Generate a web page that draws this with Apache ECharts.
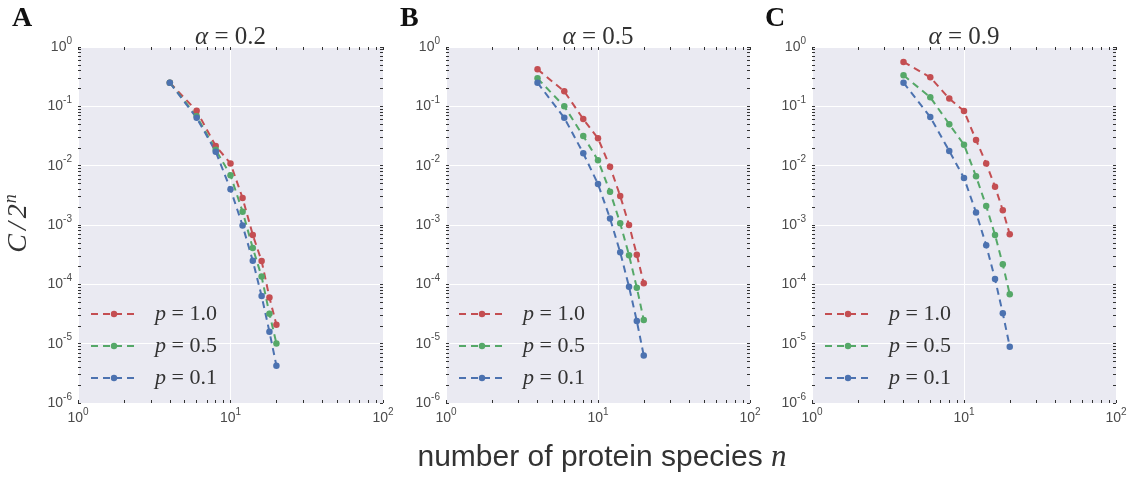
<!DOCTYPE html>
<html>
<head>
<meta charset="utf-8">
<script src="https://cdn.jsdelivr.net/npm/echarts@6/dist/echarts.min.js"></script>
<style>
html,body{margin:0;padding:0;background:#fff;}
#chart{width:1136px;height:477px;}
</style>
</head>
<body>
<div id="chart"></div>
<script>
// ---- data ----
const nValues = [4, 6, 8, 10, 12, 14, 16, 18, 20];
const alphaLabels = ['0.2', '0.5', '0.9'];
const panelLetters = ['A', 'B', 'C'];
const pLabels = ['1.0', '0.5', '0.1'];
const colors = ['#C44E52', '#55A868', '#4C72B0'];

const a02_p10 = [0.25, 0.084, 0.0214, 0.0109, 0.00285, 0.00068, 0.000247, 6.0e-5, 2.09e-5];
const a02_p05 = [0.25, 0.068, 0.0185, 0.0069, 0.00168, 0.00041, 0.000135, 3.2e-5, 1.01e-5];
const a02_p01 = [0.25, 0.064, 0.0172, 0.0040, 0.00098, 0.00025, 6.35e-5, 1.59e-5, 4.25e-6];
const a05_p10 = [0.42, 0.179, 0.061, 0.0289, 0.0096, 0.00308, 0.001, 0.000316, 1.04e-4];
const a05_p05 = [0.296, 0.1, 0.0316, 0.0123, 0.00365, 0.00107, 0.00031, 8.8e-5, 2.5e-5];
const a05_p01 = [0.25, 0.064, 0.0162, 0.0049, 0.00129, 0.000347, 9.1e-5, 2.41e-5, 6.3e-6];
const a09_p10 = [0.56, 0.308, 0.135, 0.0834, 0.0271, 0.0109, 0.00442, 0.00177, 0.0007];
const a09_p05 = [0.333, 0.142, 0.05, 0.0226, 0.0066, 0.00209, 0.00068, 0.000217, 6.8e-5];
const a09_p01 = [0.25, 0.066, 0.0177, 0.0062, 0.00163, 0.000454, 0.000123, 3.24e-5, 8.9e-6];

const panelSeries = [
  [a02_p10, a02_p05, a02_p01],
  [a05_p10, a05_p05, a05_p01],
  [a09_p10, a09_p05, a09_p01]
];

// tick labels
const xTickValues = [1, 10, 100];
const xTickExp = ['0', '1', '2'];
const yTickValues = [1e-6, 1e-5, 1e-4, 1e-3, 1e-2, 1e-1, 1];
const yTickExp = ['-6', '-5', '-4', '-3', '-2', '-1', '0'];
const minorMultipliers = [1, 2, 3, 4, 5, 6, 7, 8, 9];

// ---- layout ----
const grids = [
  {left: 78, top: 47, width: 305, height: 356},
  {left: 446, top: 47, width: 304, height: 356},
  {left: 812, top: 47, width: 304, height: 356}
];
const letterX = [12, 400, 765];

function minorTicks(decades, maxVal) {
  const out = [];
  decades.forEach(d => minorMultipliers.forEach(m => { const v = d * m; if (v <= maxVal * 1.0001) out.push(v); }));
  out.push(maxVal);
  return out;
}
const xMinor = minorTicks([1, 10], 100);
const yMinor = minorTicks([1e-6, 1e-5, 1e-4, 1e-3, 1e-2, 1e-1], 1);

function labelFor(ticks, exps) {
  return function (v) {
    const idx = ticks.findIndex(t => Math.abs(Math.log10(t) - Math.log10(v)) < 1e-6);
    if (idx < 0) return '';
    return '{b|10}{s|' + exps[idx] + '}';
  };
}
const tickRich = {
  b: {fontSize: 14, color: '#4a4a4a', fontFamily: 'Liberation Sans'},
  s: {fontSize: 10, color: '#4a4a4a', fontFamily: 'Liberation Sans', padding: [0, 0, 12, 0]}
};
const tickStyle = {show: true, inside: true, length: 3, lineStyle: {color: '#333', width: 1}};

const xAxes = [], yAxes = [], series = [], legends = [], graphics = [];
grids.forEach((g, gi) => {
  xAxes.push({
    type: 'log', gridIndex: gi, min: 1, max: 100, logBase: 10, position: 'bottom',
    axisLine: {show: false, onZero: false}, axisTick: {show: false},
    splitLine: {show: true, lineStyle: {color: '#ffffff', width: 1}},
    axisLabel: {margin: 4, formatter: labelFor(xTickValues, xTickExp), rich: tickRich}
  });
  ['bottom', 'top'].forEach(pos => xAxes.push({
    type: 'log', gridIndex: gi, min: 1, max: 100, position: pos,
    axisLine: {show: false, onZero: false},
    axisTick: Object.assign({customValues: xMinor}, tickStyle),
    axisLabel: {show: false}, splitLine: {show: false}
  }));
  yAxes.push({
    type: 'log', gridIndex: gi, min: 1e-6, max: 1, logBase: 10, position: 'left',
    axisLine: {show: false, onZero: false}, axisTick: {show: false},
    splitLine: {show: true, lineStyle: {color: '#ffffff', width: 1}},
    axisLabel: {margin: 6, formatter: labelFor(yTickValues, yTickExp), rich: tickRich}
  });
  ['left', 'right'].forEach(pos => yAxes.push({
    type: 'log', gridIndex: gi, min: 1e-6, max: 1, position: pos,
    axisLine: {show: false, onZero: false},
    axisTick: Object.assign({customValues: yMinor}, tickStyle),
    axisLabel: {show: false}, splitLine: {show: false}
  }));

  panelSeries[gi].forEach((vals, si) => {
    series.push({
      name: 'p=' + pLabels[si], type: 'line',
      xAxisIndex: gi * 3, yAxisIndex: gi * 3,
      data: nValues.map((n, k) => [n, vals[k]]),
      symbol: 'circle', symbolSize: 6.5, showSymbol: true,
      lineStyle: {color: colors[si], width: 2, type: [7, 5]},
      itemStyle: {color: colors[si]},
      emphasis: {disabled: true}, animation: false
    });
  });

  legends.push({
    orient: 'vertical', left: g.left + 7, top: 298,
    itemWidth: 46, itemHeight: 8, itemGap: 10, selectedMode: false,
    data: pLabels.map(p => 'p=' + p),
    formatter: name => '{i|p}{t| = ' + name.slice(2) + '}',
    textStyle: {
      rich: {
        i: {fontSize: 22, fontStyle: 'italic', fontFamily: 'Liberation Serif', color: '#333', padding: [0, 0, 0, 13]},
        t: {fontSize: 22, fontFamily: 'Liberation Serif', color: '#333'}
      }
    }
  });

  graphics.push({
    type: 'text', x: g.left + g.width / 2, y: 37,
    style: {
      text: '{a|α}{b| = ' + alphaLabels[gi] + '}', align: 'center', verticalAlign: 'middle',
      rich: {
        a: {fontSize: 25, fontStyle: 'italic', fontFamily: 'Liberation Serif', fill: '#333'},
        b: {fontSize: 25, fontFamily: 'Liberation Serif', fill: '#333'}
      }
    }
  });
  graphics.push({
    type: 'text', x: letterX[gi], y: 19,
    style: {text: panelLetters[gi], font: 'bold 28px "Liberation Serif"', fill: '#111', verticalAlign: 'middle'}
  });
});

graphics.push(
  {type: 'text', x: 19, y: 224, rotation: Math.PI / 2,
    style: {text: '{c|C}{c|/}{d|2}{n|n}', align: 'center', verticalAlign: 'middle',
      rich: {
        c: {fontSize: 28, fontStyle: 'italic', fontFamily: 'Liberation Serif', fill: '#333', padding: [0, 3, 0, 1]},
        d: {fontSize: 28, fontStyle: 'italic', fontFamily: 'Liberation Serif', fill: '#333', padding: [0, 1, 0, 1]},
        n: {fontSize: 18, fontStyle: 'italic', fontFamily: 'Liberation Serif', fill: '#333', padding: [0, 0, 16, 0]}
      }}},
  {type: 'text', x: 602, y: 458,
    style: {text: '{t|number of protein species }{n|n}', align: 'center', verticalAlign: 'middle',
      rich: {
        t: {fontSize: 30, fontFamily: 'Liberation Sans', fill: '#333'},
        n: {fontSize: 31, fontStyle: 'italic', fontFamily: 'Liberation Serif', fill: '#333'}
      }}}
);

const chart = echarts.init(document.getElementById('chart'), null, {renderer: 'canvas'});
chart.setOption({
  animation: false,
  backgroundColor: '#ffffff',
  grid: grids.map(g => Object.assign({show: true, backgroundColor: '#EAEAF2', borderWidth: 0}, g)),
  xAxis: xAxes,
  yAxis: yAxes,
  legend: legends,
  series: series,
  graphic: graphics
});
</script>
</body>
</html>
